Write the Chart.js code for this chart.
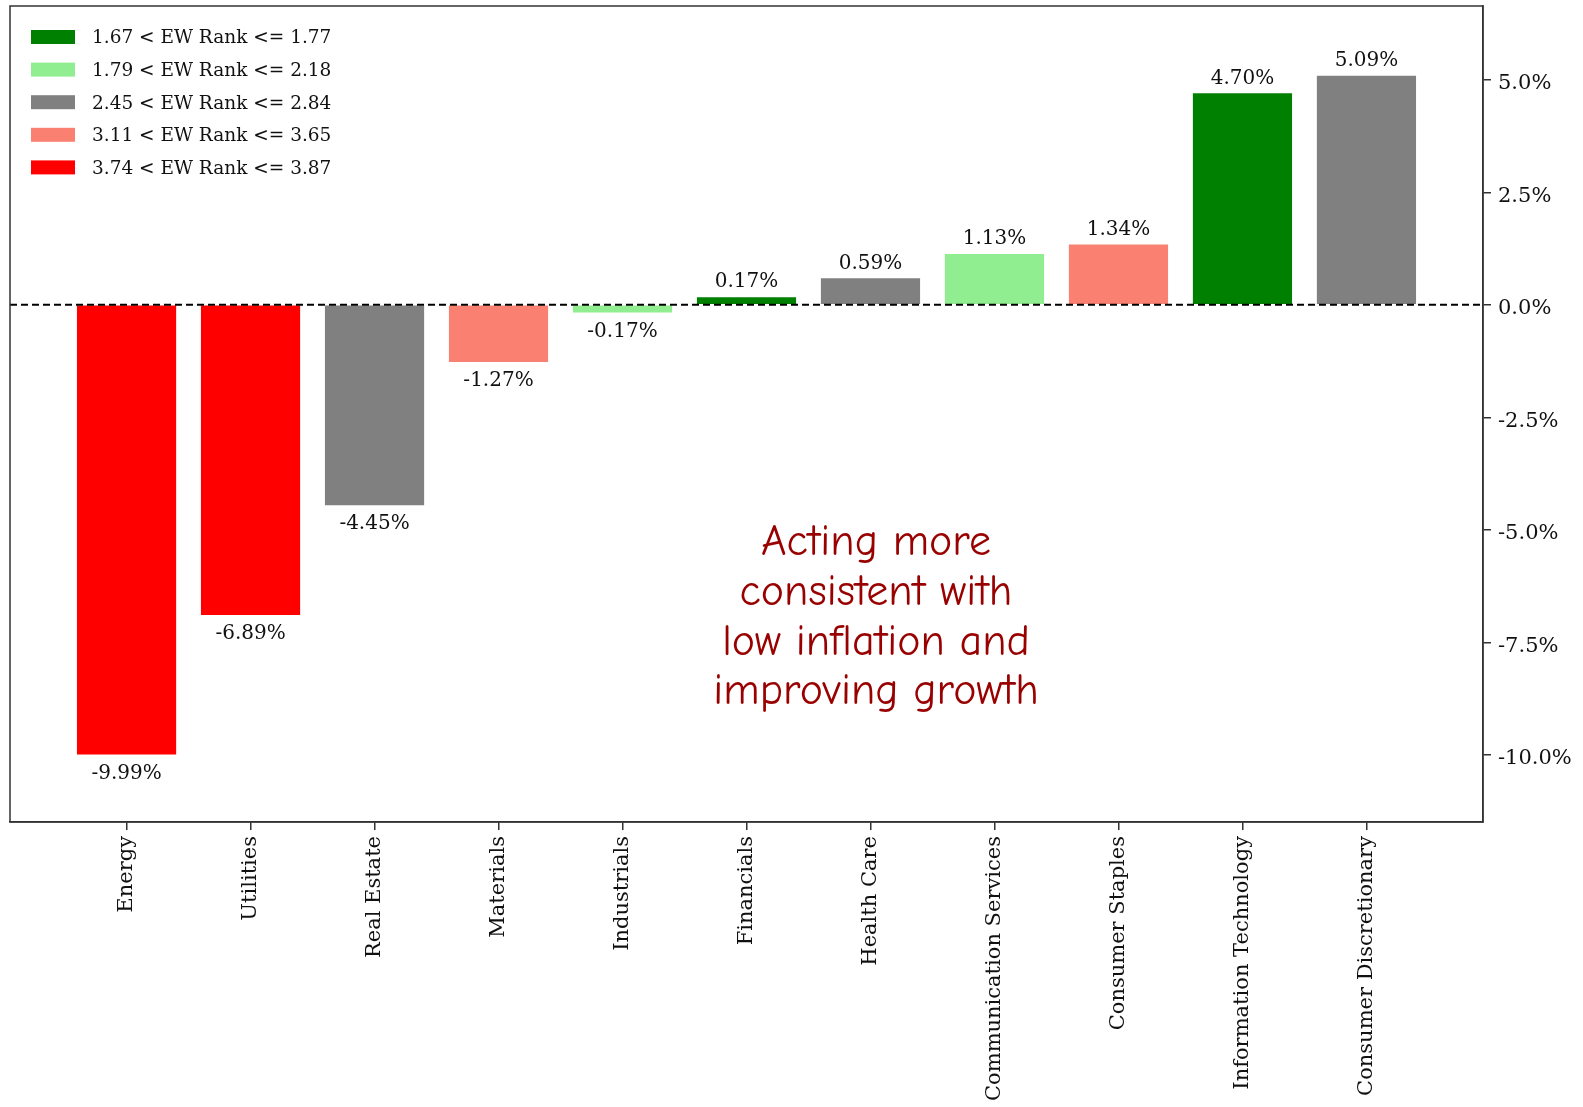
<!DOCTYPE html>
<html><head><meta charset="utf-8">
<script src="https://cdn.jsdelivr.net/npm/chart.js@4.4.0/dist/chart.umd.min.js"></script>
<style>html,body{margin:0;padding:0;background:#fff;}#wrap{position:relative;width:1583px;height:1107px;}</style>
</head><body><div id="wrap"><canvas id="c" width="1583" height="1107"></canvas></div>
<script>
const categories = ['Energy','Utilities','Real Estate','Materials','Industrials','Financials','Health Care','Communication Services','Consumer Staples','Information Technology','Consumer Discretionary'];
const returns = [-9.99,-6.89,-4.45,-1.27,-0.17,0.17,0.59,1.13,1.34,4.70,5.09];
const rankGroup = [4,4,2,3,1,0,2,1,3,0,2];
const groupLabels = ['1.67 < EW Rank <= 1.77','1.79 < EW Rank <= 2.18','2.45 < EW Rank <= 2.84','3.11 < EW Rank <= 3.65','3.74 < EW Rank <= 3.87'];
const groupColors = ['#008000','#90ee90','#808080','#fa8072','#ff0000'];
const yTicks = [5.0,2.5,0.0,-2.5,-5.0,-7.5,-10.0];
const annotationLines = ['Acting more','consistent with','low inflation and','improving growth'];

const SERIF = '"DejaVu Serif", "Liberation Serif", serif';
const FRAME = '#333333';

const datasets = groupLabels.map((lab, g) => ({
  label: lab,
  backgroundColor: groupColors[g],
  borderWidth: 0,
  barPercentage: 0.8,
  categoryPercentage: 1.0,
  grouped: false,
  data: categories.map((c, i) => rankGroup[i] === g ? {x: i, y: returns[i]} : null).filter(d => d)
}));

const overlay = {
  id: 'overlay',
  afterDatasetsDraw(chart) {
    const ctx = chart.ctx, a = chart.chartArea, ys = chart.scales.y;
    ctx.save();
    const y0 = ys.getPixelForValue(0);
    ctx.strokeStyle = '#000'; ctx.lineWidth = 2; ctx.setLineDash([7, 4]);
    ctx.beginPath(); ctx.moveTo(a.left, y0); ctx.lineTo(a.right, y0); ctx.stroke();
    ctx.setLineDash([]);
    ctx.strokeStyle = FRAME; ctx.lineWidth = 1.5;
    ctx.strokeRect(a.left, a.top, a.right - a.left, a.bottom - a.top);
    ctx.fillStyle = '#111'; ctx.font = '20px ' + SERIF;
    ctx.textAlign = 'center'; ctx.textBaseline = 'middle';
    chart.data.datasets.forEach((ds, di) => {
      const meta = chart.getDatasetMeta(di);
      meta.data.forEach((el, k) => {
        const v = ds.data[k].y;
        const ty = v >= 0 ? el.y - 15 : el.y + 19;
        ctx.fillText(v.toFixed(2) + '%', el.x, ty);
      });
    });
    ctx.textAlign = 'left';
    ctx.font = '18.5px ' + SERIF;
    groupLabels.forEach((lab, g) => {
      const cy = a.top + 31 + g * 32.6;
      ctx.fillStyle = groupColors[g];
      ctx.fillRect(a.left + 21, cy - 7, 44, 14);
      ctx.fillStyle = '#111';
      ctx.fillText(lab, a.left + 82, cy + 1.5);
    });
    ctx.fillStyle = '#990000';
    ctx.font = '44px "Comic Sans MS", "Comic Neue", "Open Sans", sans-serif';
    ctx.textAlign = 'center';
    annotationLines.forEach((t, i) => ctx.fillText(t, 876, 543 + i * 49.6));
    ctx.restore();
  }
};

function zeroPad(s) { s.paddingTop = 0; s.paddingBottom = 0; s.paddingLeft = 0; s.paddingRight = 0; }

new Chart(document.getElementById('c'), {
  type: 'bar',
  data: { datasets },
  options: {
    responsive: false,
    animation: false,
    devicePixelRatio: 1,
    layout: { padding: { left: 10, top: 6, right: 0, bottom: 0 } },
    plugins: { legend: { display: false }, tooltip: { enabled: false } },
    scales: {
      x: {
        type: 'linear',
        position: 'bottom',
        min: -0.94, max: 10.94,
        offset: false,
        afterBuildTicks: s => { s.ticks = categories.map((c, i) => ({ value: i })); },
        afterFit: s => { s.height = 285; zeroPad(s); },
        ticks: {
          autoSkip: false, minRotation: 90, maxRotation: 90, padding: 6,
          color: '#111', font: { family: SERIF, size: 21 },
          callback: v => categories[v]
        },
        grid: { offset: false, drawOnChartArea: false, drawTicks: true, tickLength: 8, color: FRAME, lineWidth: 1.5 },
        border: { display: true, color: FRAME, width: 1.5 }
      },
      y: {
        type: 'linear',
        position: 'right',
        min: -11.49, max: 6.64,
        afterBuildTicks: s => { s.ticks = yTicks.map(v => ({ value: v })); },
        afterFit: s => { s.width = 100; zeroPad(s); },
        ticks: {
          padding: 7, labelOffset: 4, color: '#111', font: { family: SERIF, size: 21 },
          callback: v => v.toFixed(1) + '%'
        },
        grid: { drawOnChartArea: false, drawTicks: true, tickLength: 8, color: FRAME, lineWidth: 1.5 },
        border: { display: true, color: FRAME, width: 1.5 }
      }
    }
  },
  plugins: [overlay]
});
</script></body></html>
